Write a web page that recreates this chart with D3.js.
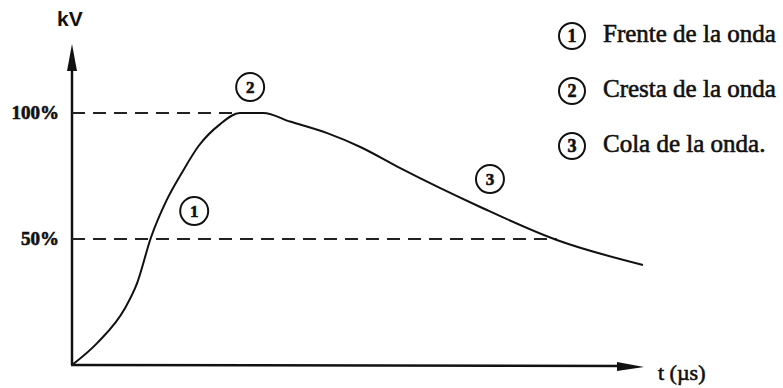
<!DOCTYPE html>
<html lang="es">
<head>
    <meta charset="UTF-8">
    <title>Onda de impulso</title>
    <script src="https://d3js.org/d3.v7.min.js"></script>
    <style>
        body {
            margin: 0;
            background-color: #fff;
        }

        .serif {
            font-family: "Liberation Serif", "DejaVu Serif", serif;
            fill: #111;
            stroke: #111;
            stroke-width: 0.6px;
        }
    </style>
</head>
<body>
    <svg id="chart" width="783" height="388"></svg>
    <script>
        // Curve: time (arbitrary units, 0-100) and voltage (% of peak)
        const times = [0, 4.4, 9.3, 11.4, 13.8, 16.6, 19.3, 22.2, 25.9, 29.4, 33.5, 38.2, 44.7, 50.5, 57.4, 71.5, 84.9, 100];
        const volts = [0, 8.7, 22.6, 32.5, 50.4, 65.5, 76.5, 87.0, 95.5, 100, 100, 96.6, 92.0, 86.5, 78.2, 62.7, 49.6, 39.7];

        // Reference levels and where each dashed line stops
        const levels = [100, 50];
        const levelLabels = ["100%", "50%"];
        const levelEnds = [29.4, 84.9];

        // Numbered markers on the curve
        const markerNums = ["1", "2", "3"];
        const markerT = [21.4, 31.2, 73.2];
        const markerV = [61.1, 110.3, 73.8];

        const legendLabels = ["Frente de la onda", "Cresta de la onda", "Cola de la onda."];

        const svg = d3.select("#chart");

        const x = d3.scaleLinear().domain([0, 100]).range([72, 643]);
        const y = d3.scaleLinear().domain([0, 100]).range([365, 113]);

        // Axes with arrow heads
        const axisColor = "#111";
        svg.append("line")
            .attr("x1", x(0)).attr("y1", y(0))
            .attr("x2", x(0)).attr("y2", 62)
            .attr("stroke", axisColor).attr("stroke-width", 2.5);
        svg.append("path")
            .attr("d", `M${x(0)},44 L${x(0) - 5},71 L${x(0) + 5},71 Z`)
            .attr("fill", axisColor);

        svg.append("line")
            .attr("x1", x(0) - 1).attr("y1", y(0))
            .attr("x2", 625).attr("y2", y(0) + 1)
            .attr("stroke", axisColor).attr("stroke-width", 2.5);
        svg.append("path")
            .attr("d", `M644,${y(0) + 2} L617,${y(0) - 3} L617,${y(0) + 6} Z`)
            .attr("fill", axisColor);

        // Dashed reference lines
        levels.forEach((lv, i) => {
            svg.append("line")
                .attr("x1", x(0)).attr("x2", x(levelEnds[i]))
                .attr("y1", y(lv)).attr("y2", y(lv))
                .attr("stroke", "#222")
                .attr("stroke-width", 2)
                .attr("stroke-dasharray", "13,8");

            svg.append("text")
                .attr("class", "serif")
                .attr("x", x(0) - 13)
                .attr("y", y(lv) + 6)
                .attr("text-anchor", "end")
                .attr("font-size", 19)
                .attr("font-weight", "bold")
                .text(levelLabels[i]);
        });

        // Wave
        const line = d3.line()
            .x((d, i) => x(times[i]))
            .y((d, i) => y(volts[i]))
            .curve(d3.curveMonotoneX);

        svg.append("path")
            .datum(volts)
            .attr("d", line)
            .attr("fill", "none")
            .attr("stroke", "#111")
            .attr("stroke-width", 2);

        // Numbered circles on the chart
        markerNums.forEach((n, i) => {
            const g = svg.append("g")
                .attr("transform", `translate(${x(markerT[i])},${y(markerV[i])})`);
            g.append("circle")
                .attr("r", 14)
                .attr("fill", "none")
                .attr("stroke", "#111")
                .attr("stroke-width", 2);
            g.append("text")
                .attr("class", "serif")
                .attr("text-anchor", "middle")
                .attr("y", 6)
                .attr("font-size", 17)
                .attr("font-weight", "bold")
                .text(n);
        });

        // Axis titles
        svg.append("text")
            .attr("x", 57).attr("y", 26)
            .attr("font-family", "Liberation Sans, Arial, sans-serif")
            .attr("font-weight", "bold")
            .attr("font-size", 21)
            .attr("fill", "#111")
            .text("kV");

        svg.append("text")
            .attr("class", "serif")
            .attr("x", 658).attr("y", 380)
            .attr("font-size", 22)
            .text("t (µs)");

        // Legend
        legendLabels.forEach((lab, i) => {
            const cy = 36 + i * 55;
            svg.append("circle")
                .attr("cx", 572).attr("cy", cy)
                .attr("r", 13)
                .attr("fill", "none")
                .attr("stroke", "#111")
                .attr("stroke-width", 2);
            svg.append("text")
                .attr("class", "serif")
                .attr("x", 572).attr("y", cy + 6)
                .attr("text-anchor", "middle")
                .attr("font-size", 18)
                .attr("font-weight", "bold")
                .text(markerNums[i]);
            svg.append("text")
                .attr("class", "serif")
                .attr("x", 603).attr("y", cy + 6)
                .attr("font-size", 25)
                .text(lab);
        });
    </script>
</body>
</html>
